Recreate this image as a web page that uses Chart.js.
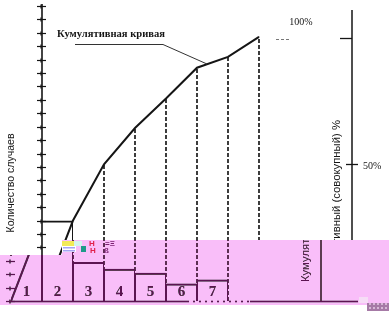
<!DOCTYPE html>
<html><head><meta charset="utf-8">
<script src="https://cdn.jsdelivr.net/npm/chart.js@4.4.0/dist/chart.umd.min.js"></script>
<style>html,body{margin:0;padding:0;background:#fff;overflow:hidden}#wrap{width:389px;height:311px;position:relative}canvas{display:block}</style>
</head><body><div id="wrap"><canvas id="c" width="389" height="311"></canvas></div>
<script>
// ---- data ----
const categories = ['1', '2', '3', '4', '5', '6', '7'];
const counts = [6.0, 4.2, 2.9, 2.4, 2.1, 1.3, 1.6];
const cumulative = [0, 6.0, 10.2, 12.9, 15.1, 17.4, 18.2, 19.7];
const countTicks = [0, 1, 2, 3, 4, 5, 6, 7, 8, 9, 10, 11, 12, 13, 14, 15, 16, 17, 18, 19, 20, 21, 22];
const percentTicks = [50, 100];
const percentTickLabels = ['50%', '100%'];
const curveLabel = 'Кумулятивная кривая';
const leftTitle = 'Количество случаев';
const rightTitle = 'Кумулятивный (совокупный) %';

const INK = '#151515';

const datasets = [];
// dashed verticals from curve points down to baseline
for (let i = 2; i < cumulative.length; i++) {
  datasets.push({
    type: 'line', order: 3,
    data: [{x: i, y: 0}, {x: i, y: cumulative[i]}],
    borderColor: '#1c1c1c', borderWidth: 1.7, borderDash: [4, 2],
    pointRadius: 0, tension: 0, fill: false, borderCapStyle: 'butt'
  });
}
datasets.push({
  type: 'bar', order: 2,
  data: counts.map((v, i) => ({x: i + 0.5, y: v})),
  backgroundColor: 'rgba(0,0,0,0)', borderColor: INK,
  borderWidth: (ctx) => ({top: 2, left: ctx.dataIndex === 0 ? 0 : 1, right: 1, bottom: 0}),
  borderSkipped: 'start', barPercentage: 1, categoryPercentage: 1, inflateAmount: 0
});
datasets.push({
  type: 'line', order: 1,
  data: cumulative.map((v, i) => ({x: i, y: v})),
  borderColor: INK, borderWidth: 2, pointRadius: 0, tension: 0, fill: false
});

function fitText(ctx, txt, x, y, width, rot) {
  ctx.save();
  ctx.translate(x, y);
  if (rot) ctx.rotate(-Math.PI / 2);
  const w = ctx.measureText(txt).width;
  ctx.scale(width / w, 1);
  ctx.textAlign = 'center';
  ctx.textBaseline = 'middle';
  ctx.fillText(txt, 0, 0);
  ctx.restore();
}

const decor = {
  id: 'decor',
  beforeDraw(chart) {
    const c = chart.ctx;
    c.save(); c.fillStyle = '#fff'; c.fillRect(0, 0, chart.width, chart.height); c.restore();
  },
  afterDraw(chart) {
    const c = chart.ctx;
    const xs = chart.scales.x, ys = chart.scales.y, yp = chart.scales.y2;
    const xL = xs.getPixelForValue(0), xR = xs.getPixelForValue(10);
    const y0 = ys.getPixelForValue(0);
    c.save();
    c.strokeStyle = INK; c.fillStyle = INK;
    // left axis (lower part is hidden by the band anyway)
    c.lineWidth = 1.6;
    c.beginPath(); c.moveTo(xL, 4); c.lineTo(xL, 256); c.stroke();
    c.lineWidth = 1.2;
    countTicks.forEach(t => {
      const y = Math.round(ys.getPixelForValue(t)) + 0.5;
      c.beginPath(); c.moveTo(xL - 5, y); c.lineTo(xL + 4, y); c.stroke();
      c.beginPath(); c.moveTo(xL - 1, y - 2); c.lineTo(xL - 1, y + 2); c.stroke();
    });
    // baseline
    c.lineWidth = 1.5;
    c.beginPath(); c.moveTo(xL - 2, y0 + 0.5); c.lineTo(218, y0 + 0.5); c.stroke();
    c.setLineDash([2, 4]);
    c.beginPath(); c.moveTo(218, y0 + 0.5); c.lineTo(281, y0 + 0.5); c.stroke();
    c.setLineDash([]);
    c.beginPath(); c.moveTo(281, y0 + 0.5); c.lineTo(389, y0 + 0.5); c.stroke();
    // right axis
    c.lineWidth = 1.5;
    c.beginPath(); c.moveTo(xR, 10); c.lineTo(xR, y0); c.stroke();
    c.lineWidth = 1.3;
    const p100 = Math.round(yp.getPixelForValue(percentTicks[1])) + 0.5;
    const p50 = Math.round(yp.getPixelForValue(percentTicks[0])) + 0.5;
    c.beginPath(); c.moveTo(xR - 12, p100); c.lineTo(xR, p100); c.stroke();
    c.beginPath(); c.moveTo(xR - 6, p50); c.lineTo(xR + 6, p50); c.stroke();
    c.font = '10px "Liberation Serif"';
    c.textBaseline = 'middle';
    c.textAlign = 'center';
    c.fillText(percentTickLabels[1], xR - 51, p100 - 16);
    c.textAlign = 'left';
    c.fillText(percentTickLabels[0], xR + 11, p50 + 2);
    // short dashes after curve end
    c.strokeStyle = '#777'; c.lineWidth = 1; c.setLineDash([3, 2]);
    c.beginPath(); c.moveTo(276, p100 + 1); c.lineTo(289, p100 + 1); c.stroke();
    c.setLineDash([]);
    // axis titles
    c.fillStyle = INK;
    c.font = '11px "Liberation Sans"';
    fitText(c, leftTitle, xL - 31, 183, 99, true);
    fitText(c, rightTitle, xR - 15, 201, 162, true);
    // curve label + leader
    c.font = 'bold 11px "Liberation Serif"';
    fitText(c, curveLabel, 111, 34, 108, false);
    c.strokeStyle = '#333'; c.lineWidth = 1;
    c.beginPath(); c.moveTo(75, 44.5); c.lineTo(163, 44.5); c.lineTo(207, 64); c.stroke();
    // bar numbers
    c.font = 'bold 15px "Liberation Serif"';
    c.textAlign = 'center'; c.textBaseline = 'middle';
    categories.forEach((lab, i) => {
      c.fillText(lab, xs.getPixelForValue(i + 0.5), y0 - 9);
    });
    c.restore();

    // ---- pink shifted band (scan artefact) ----
    const W = chart.width, H = chart.height, shift = 31;
    const off = document.createElement('canvas');
    off.width = W; off.height = H;
    off.getContext('2d').drawImage(chart.canvas, 0, 0);
    c.save();
    c.beginPath();
    c.moveTo(0, 255); c.lineTo(62, 255); c.lineTo(62, 240); c.lineTo(W, 240);
    c.lineTo(W, 305); c.lineTo(0, 305); c.closePath();
    c.clip();
    c.fillStyle = '#fff'; c.fillRect(0, 0, W, H);
    c.drawImage(off, shift, 0, W - shift, H, 0, 0, W - shift, H);
    c.globalCompositeOperation = 'multiply';
    c.fillStyle = '#F9BEF9'; c.fillRect(0, 0, W, H);
    c.globalCompositeOperation = 'lighten';
    c.fillStyle = '#5C1452'; c.fillRect(0, 0, W, H);
    c.globalCompositeOperation = 'source-over';
    // colourful garbage block
    c.fillStyle = '#f2ea58'; c.fillRect(62, 241, 12, 5);
    c.fillStyle = '#d4f4ee'; c.fillRect(74, 241, 8, 5);
    c.fillStyle = '#ffffff'; c.fillRect(62, 246, 14, 6);
    c.fillStyle = '#a4a4f4'; c.fillRect(63, 247, 12, 1.5); c.fillRect(63, 250, 12, 1.5);
    c.fillStyle = '#1e9a88'; c.fillRect(81, 246, 5, 6);
    c.font = 'bold 8px "Liberation Sans"'; c.textAlign = 'left'; c.textBaseline = 'middle';
    c.fillStyle = '#e0204a'; c.fillText('H', 89, 244); c.fillText('H', 90, 251);
    c.fillStyle = '#7a2070'; c.fillText('=Ξ', 105, 244); c.fillText('ß', 104, 251);
    c.fillStyle = '#f6dcf6'; c.fillRect(359, 297, 9, 6);
    c.restore();
    c.save();
    c.fillStyle = '#a67aa6'; c.fillRect(367, 303, 22, 8);
    c.fillStyle = '#d6b8d6';
    for (let x = 367; x < 389; x += 4) { for (let y = 303; y < 311; y += 4) { c.fillRect(x + ((y / 4) % 2 ? 2 : 0), y, 2, 2); } }
    c.restore();
  }
};

new Chart(document.getElementById('c'), {
  data: {datasets},
  options: {
    responsive: false, animation: false, devicePixelRatio: 1,
    layout: {padding: {left: 42, right: 37, top: 6, bottom: 10}, autoPadding: false},
    plugins: {legend: {display: false}, tooltip: {enabled: false}},
    scales: {
      x: {type: 'linear', min: 0, max: 10, offset: false, display: false},
      y: {min: 0, max: 22, display: false},
      y2: {min: -4.37, max: 112.7, display: false, position: 'right'}
    }
  },
  plugins: [decor]
});
</script>
</body></html>
